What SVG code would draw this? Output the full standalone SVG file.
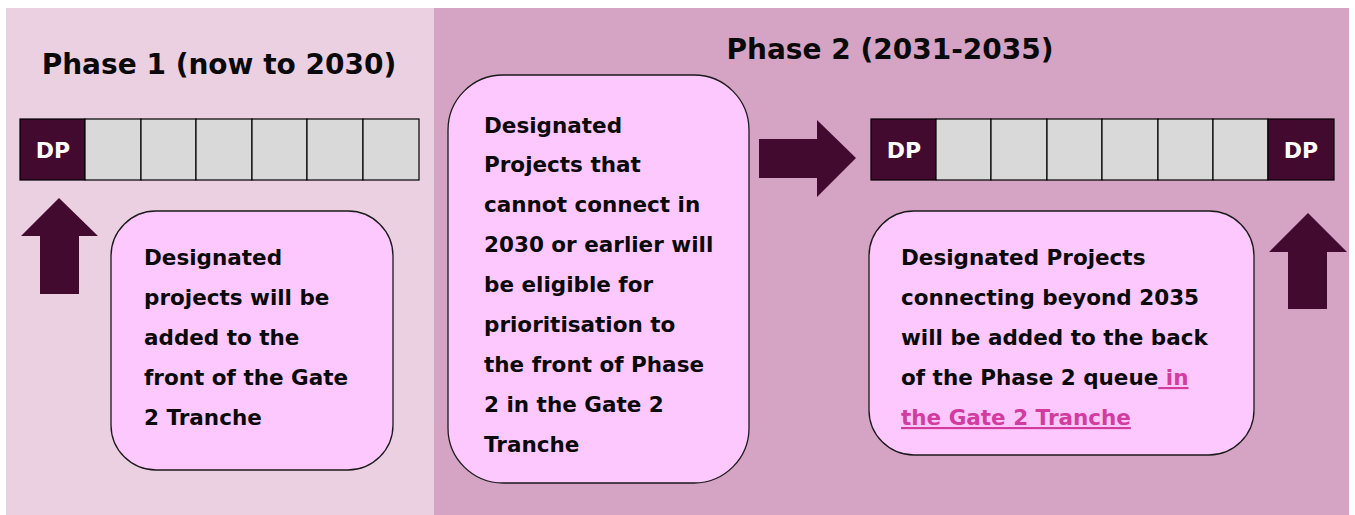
<svg xmlns="http://www.w3.org/2000/svg" width="1355" height="515" viewBox="0 0 1355 515">
<defs>
<style>
.t{font-family:"DejaVu Sans","Liberation Sans",sans-serif;font-weight:bold;fill:#0a0a0a}
.title{font-size:28px}
.body{font-size:21.5px}
.dp{font-family:"DejaVu Sans","Liberation Sans",sans-serif;font-weight:bold;font-size:22px;fill:#ffffff;text-anchor:middle}
.cell{fill:#d9d9d9;stroke:#000;stroke-width:1.2}
.dpcell{fill:#430a30;stroke:#000;stroke-width:1.2}
.box{fill:#fdc8fd;stroke:#1a1a1a;stroke-width:1.3}
.arr{fill:#430a30}
.link{fill:#d23c9f;text-decoration:underline}
</style>
</defs>
<rect x="0" y="0" width="1355" height="515" fill="#ffffff"/>
<rect id="phase1-bg" x="6" y="8" width="429" height="507" fill="#ebd0e2"/>
<rect id="phase2-bg" x="434" y="8" width="915" height="507" fill="#d5a3c3"/>

<g id="phase1-title"><text class="t title" x="219" y="74" text-anchor="middle">Phase 1 (now to 2030)</text></g>
<g id="phase2-title"><text class="t title" x="890" y="59" text-anchor="middle">Phase 2 (2031-2035)</text></g>

<g id="queue1">
<rect class="dpcell" x="20" y="119" width="65" height="61"/>
<rect class="cell" x="85" y="119" width="56" height="61"/>
<rect class="cell" x="141" y="119" width="55" height="61"/>
<rect class="cell" x="196" y="119" width="56" height="61"/>
<rect class="cell" x="252" y="119" width="55" height="61"/>
<rect class="cell" x="307" y="119" width="56" height="61"/>
<rect class="cell" x="363" y="119" width="56" height="61"/>
<text class="dp" x="53" y="158">DP</text>
</g>

<g id="queue2">
<rect class="dpcell" x="871" y="119" width="65" height="61"/>
<rect class="cell" x="936" y="119" width="55" height="61"/>
<rect class="cell" x="991" y="119" width="56" height="61"/>
<rect class="cell" x="1047" y="119" width="55" height="61"/>
<rect class="cell" x="1102" y="119" width="56" height="61"/>
<rect class="cell" x="1158" y="119" width="55" height="61"/>
<rect class="cell" x="1213" y="119" width="55" height="61"/>
<rect class="dpcell" x="1268" y="119" width="66" height="61"/>
<text class="dp" x="904" y="158">DP</text>
<text class="dp" x="1301" y="158">DP</text>
</g>

<g id="connectors">
<polygon class="arr" points="59,198 98,236 79,236 79,294 40,294 40,236 21,236"/>
<polygon class="arr" points="759,139 817,139 817,120 856,158 817,197 817,178 759,178"/>
<polygon class="arr" points="1308,213 1347,252 1327,252 1327,309 1288,309 1288,252 1269,252"/>
</g>

<g id="box1">
<rect class="box" x="111" y="211" width="282" height="259" rx="45"/>
<text class="t body" x="144" y="265">Designated</text>
<text class="t body" x="144" y="305">projects will be</text>
<text class="t body" x="144" y="345">added to the</text>
<text class="t body" x="144" y="385">front of the Gate</text>
<text class="t body" x="144" y="425">2 Tranche</text>
</g>

<g id="box2">
<rect class="box" x="448" y="75" width="301" height="408" rx="55"/>
<text class="t body" x="484" y="133">Designated</text>
<text class="t body" x="484" y="172">Projects that</text>
<text class="t body" x="484" y="212">cannot connect in</text>
<text class="t body" x="484" y="252">2030 or earlier will</text>
<text class="t body" x="484" y="292">be eligible for</text>
<text class="t body" x="484" y="332">prioritisation to</text>
<text class="t body" x="484" y="372">the front of Phase</text>
<text class="t body" x="484" y="412">2 in the Gate 2</text>
<text class="t body" x="484" y="452">Tranche</text>
</g>

<g id="box3">
<rect class="box" x="869" y="211" width="385" height="244" rx="45"/>
<text class="t body" x="901" y="265">Designated Projects</text>
<text class="t body" x="901" y="305">connecting beyond 2035</text>
<text class="t body" x="901" y="345">will be added to the back</text>
<text class="t body" x="901" y="385">of the Phase 2 queue<tspan class="link"> in</tspan></text>
<text class="t body link" x="901" y="425">the Gate 2 Tranche</text>
</g>
</svg>
